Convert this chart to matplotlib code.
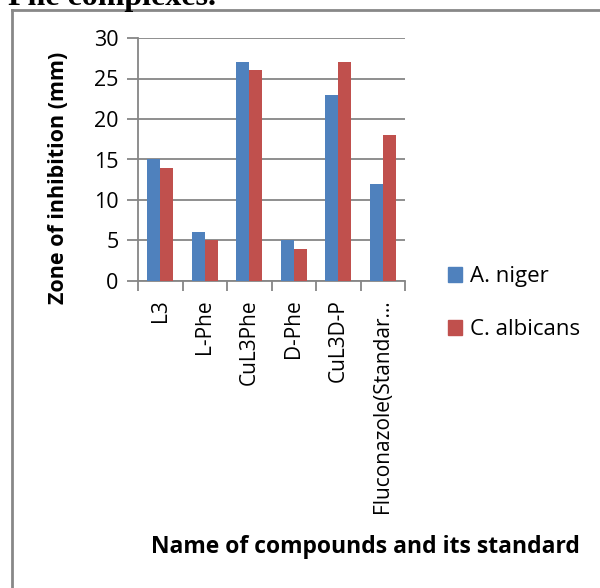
import matplotlib
matplotlib.use("Agg")
import matplotlib.pyplot as plt
import numpy as np
from matplotlib.lines import Line2D
from matplotlib.patches import Patch

categories = ["L3", "L-Phe", "CuL3Phe", "D-Phe", "CuL3D-P", "Fluconazole(Standar…"]
a_niger = [15, 6, 27, 5, 23, 12]
c_albicans = [14, 5, 26, 4, 27, 18]
series_names = ["A. niger", "C. albicans"]
yticks = [0, 5, 10, 15, 20, 25, 30]

blue = "#4F81BD"
red = "#C0504D"
grid_c = "#868686"
font = ["Open Sans", "DejaVu Sans"]

W, H = 600, 588
fig = plt.figure(figsize=(6, 5.88), dpi=100)

# outer chart border (left and top edges visible)
fig.add_artist(Line2D([12/W, 12/W], [0, 1-10/H], transform=fig.transFigure, color="#888888", lw=2))
fig.add_artist(Line2D([12/W, 1], [1-10/H, 1-10/H], transform=fig.transFigure, color="#888888", lw=2))

# cut-off heading
fig.text(8/W, 1-4.5/H, "Phe complexes.", family="Liberation Serif", weight="bold",
         fontsize=23, ha="left", va="baseline")

ax = fig.add_axes([138/W, 1-281/H, (405-138)/W, (281-38)/H])
x = np.arange(len(categories))
bw = 0.29
ax.bar(x - bw/2, a_niger, bw, color=blue, zorder=3)
ax.bar(x + bw/2, c_albicans, bw, color=red, zorder=3)

ax.set_xlim(-0.5, len(categories) - 0.5)
ax.set_ylim(0, 30)
ax.set_yticks(yticks)
ax.set_yticklabels([str(v) for v in yticks], family=font, fontsize=15.5)
ax.yaxis.grid(True, color=grid_c, lw=1.3, zorder=0)
ax.tick_params(axis="y", length=8, width=1.3, color=grid_c, pad=6)

ax.set_xticks(np.arange(-0.5, len(categories), 1.0))
ax.set_xticklabels([])
ax.tick_params(axis="x", length=7, width=1.3, color=grid_c)
ax.set_xticks(x, minor=True)
ax.set_xticklabels(categories, minor=True, rotation=90, family=font, fontsize=15, va="top")
ax.tick_params(axis="x", which="minor", length=0, pad=13)

for s in ["top", "right"]:
    ax.spines[s].set_visible(False)
for s in ["left", "bottom"]:
    ax.spines[s].set_color(grid_c)
    ax.spines[s].set_linewidth(1.3)

fig.text(58/W, 1-178/H, "Zone of inhibition (mm)", family=font, fontsize=15.5, weight="bold",
         rotation=90, ha="center", va="center")
fig.text(365/W, 1-547/H, "Name of compounds and its standard", family=font, fontsize=16.5,
         weight="bold", ha="center", va="center")

handles = [Patch(color=blue), Patch(color=red)]
fig.legend(handles, series_names, loc="upper left", bbox_to_anchor=(428/W, 1-246/H),
           frameon=False, prop={"family": font, "size": 16}, handlelength=0.65,
           handleheight=0.65, handletextpad=0.35, labelspacing=1.45)

fig.savefig("out.png", dpi=100)
